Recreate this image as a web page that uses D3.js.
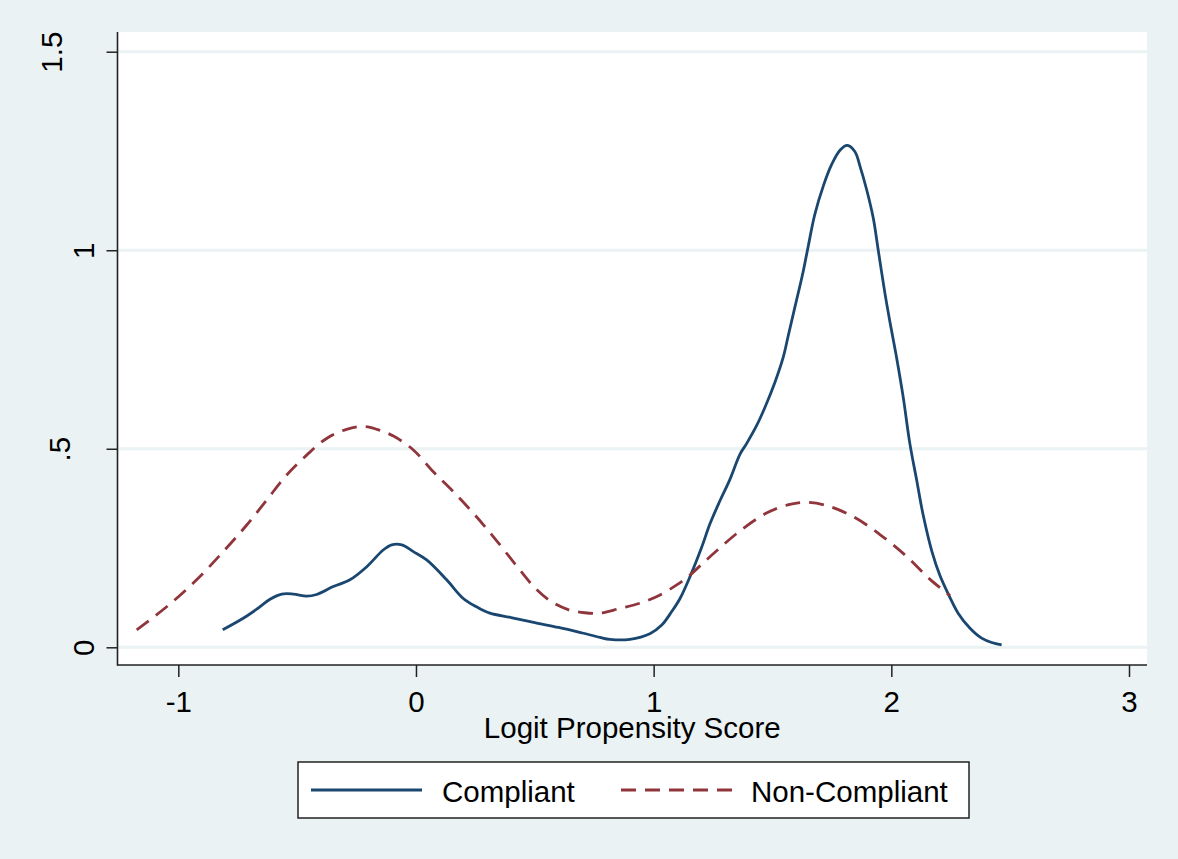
<!DOCTYPE html>
<html>
<head>
<meta charset="utf-8">
<script src="https://cdn.jsdelivr.net/npm/d3@7"></script>
<style>
  html, body { margin: 0; padding: 0; background: #eaf2f3; }
  svg { display: block; }
  text { font-family: "Liberation Sans", Arial, Helvetica, sans-serif; fill: #000; }
</style>
</head>
<body>
<svg id="chart" width="1178" height="859"></svg>
<script>
// ---- data ----
const compliantX = [-0.813,-0.727,-0.670,-0.614,-0.565,-0.516,-0.460,-0.418,-0.348,-0.278,-0.207,-0.138,-0.102,-0.060,-0.011,0.045,0.129,0.199,0.255,0.311,0.400,0.500,0.600,0.700,0.774,0.816,0.900,0.984,1.034,1.076,1.111,1.153,1.202,1.237,1.279,1.321,1.363,1.391,1.433,1.468,1.510,1.545,1.566,1.594,1.629,1.650,1.678,1.714,1.749,1.784,1.815,1.847,1.868,1.896,1.924,1.945,1.973,1.994,2.022,2.050,2.078,2.106,2.134,2.170,2.205,2.247,2.281,2.331,2.380,2.422,2.464];
const compliantY = [0.044,0.073,0.096,0.121,0.134,0.134,0.129,0.133,0.153,0.170,0.203,0.245,0.258,0.258,0.241,0.220,0.170,0.123,0.102,0.086,0.075,0.062,0.050,0.036,0.025,0.020,0.020,0.034,0.056,0.090,0.123,0.178,0.252,0.311,0.369,0.423,0.486,0.513,0.558,0.604,0.667,0.730,0.784,0.856,0.946,1.009,1.090,1.162,1.216,1.252,1.264,1.248,1.212,1.153,1.081,1.000,0.892,0.820,0.730,0.630,0.513,0.423,0.333,0.243,0.180,0.125,0.086,0.048,0.023,0.012,0.006];
const nonCompliantX = [-1.175,-1.049,-0.923,-0.811,-0.712,-0.628,-0.544,-0.460,-0.376,-0.292,-0.222,-0.165,-0.095,-0.011,0.073,0.157,0.241,0.325,0.430,0.500,0.570,0.640,0.710,0.774,0.858,0.942,1.027,1.097,1.153,1.195,1.265,1.363,1.475,1.573,1.644,1.728,1.840,1.952,2.064,2.163,2.247];
const nonCompliantY = [0.044,0.102,0.170,0.241,0.308,0.371,0.434,0.484,0.526,0.549,0.556,0.549,0.532,0.497,0.442,0.392,0.338,0.279,0.200,0.150,0.115,0.095,0.087,0.086,0.098,0.111,0.132,0.157,0.182,0.205,0.243,0.293,0.338,0.360,0.365,0.357,0.329,0.284,0.229,0.171,0.130];
const xTicks = [-1, 0, 1, 2, 3];
const xTickLabels = ["-1", "0", "1", "2", "3"];
const yTicks = [0, 0.5, 1, 1.5];
const yTickLabels = ["0", ".5", "1", "1.5"];
const seriesNames = ["Compliant", "Non-Compliant"];
const xTitle = "Logit Propensity Score";

// ---- layout ----
const W = 1178, H = 859;
const plot = { left: 117.5, right: 1147, top: 32, bottom: 665 };
const colors = ["#1a476f", "#90353b"];
const dash = "15,9";
const fontSize = 29.5;

const svg = d3.select("#chart");
svg.append("rect").attr("x", 0).attr("y", 0).attr("width", W).attr("height", H).attr("fill", "#eaf2f3");
svg.append("rect").attr("x", plot.left).attr("y", plot.top)
  .attr("width", plot.right - plot.left).attr("height", plot.bottom - plot.top).attr("fill", "#fff");

const x = d3.scaleLinear().domain([-1, 3]).range([178.3, 1129]);
const y = d3.scaleLinear().domain([0, 1.5]).range([647.3, 51.7]);

// gridlines
svg.append("g").selectAll("line").data(yTicks).join("line")
  .attr("x1", plot.left + 1).attr("x2", plot.right)
  .attr("y1", d => y(d)).attr("y2", d => y(d))
  .attr("stroke", "#eaf2f3").attr("stroke-width", 3);

// lines
const line = d3.line().x(d => x(d[0])).y(d => y(d[1])).curve(d3.curveCatmullRom.alpha(0.5));
const cData = compliantX.map((v, i) => [v, compliantY[i]]);
const nData = nonCompliantX.map((v, i) => [v, nonCompliantY[i]]);
svg.append("path").datum(cData).attr("d", line).attr("fill", "none")
  .attr("stroke", colors[0]).attr("stroke-width", 2.8).attr("stroke-linejoin", "round");
svg.append("path").datum(nData).attr("d", line).attr("fill", "none")
  .attr("stroke", colors[1]).attr("stroke-width", 2.8).attr("stroke-dasharray", dash);

// x axis
const xAxis = d3.axisBottom(x).tickValues(xTicks).tickSize(12).tickSizeOuter(0)
  .tickFormat((d, i) => xTickLabels[i]);
const gx = svg.append("g").attr("transform", `translate(0,${plot.bottom})`).call(xAxis);
gx.select(".domain").remove();
gx.selectAll(".tick line").attr("stroke", "#222").attr("stroke-width", 1.5);
gx.selectAll(".tick text").attr("y", 0).attr("dy", null)
  .attr("transform", "translate(0,47)")
  .style("font-size", fontSize + "px").style("font-family", "'Liberation Sans', Arial, sans-serif").attr("fill", "#000");
svg.append("line").attr("x1", plot.left).attr("x2", plot.right)
  .attr("y1", plot.bottom).attr("y2", plot.bottom).attr("stroke", "#222").attr("stroke-width", 1.6);

// y axis
const yAxis = d3.axisLeft(y).tickValues(yTicks).tickSize(11).tickSizeOuter(0)
  .tickFormat((d, i) => yTickLabels[i]);
const gy = svg.append("g").attr("transform", `translate(${plot.left},0)`).call(yAxis);
gy.select(".domain").remove();
gy.selectAll(".tick line").attr("stroke", "#222").attr("stroke-width", 1.5);
// Stata shifts rotated labels according to their length
const labelBaseline = s => s.length === 1 ? 94 : (s.length === 2 ? 70 : 62);
gy.selectAll(".tick text")
  .attr("x", null).attr("dy", null).attr("y", 0)
  .attr("text-anchor", "middle")
  .attr("transform", function(d, i) { return `translate(${labelBaseline(yTickLabels[i]) - plot.left},0) rotate(-90)`; })
  .style("font-size", fontSize + "px").style("font-family", "'Liberation Sans', Arial, sans-serif").attr("fill", "#000");
svg.append("line").attr("x1", plot.left).attr("x2", plot.left)
  .attr("y1", plot.top).attr("y2", plot.bottom + 0.8).attr("stroke", "#222").attr("stroke-width", 1.6);

// x title
svg.append("text").attr("x", (plot.left + plot.right) / 2).attr("y", 738)
  .attr("text-anchor", "middle").style("font-size", fontSize + "px").text(xTitle);

// legend
const lg = svg.append("g");
lg.append("rect").attr("x", 298).attr("y", 762).attr("width", 671).attr("height", 56)
  .attr("fill", "#fff").attr("stroke", "#222").attr("stroke-width", 1.5);
const keyX = [311, 621], textX = [442, 751];
seriesNames.forEach((name, i) => {
  lg.append("line").attr("x1", keyX[i]).attr("x2", keyX[i] + 111)
    .attr("y1", 790).attr("y2", 790)
    .attr("stroke", colors[i]).attr("stroke-width", 2.8)
    .attr("stroke-dasharray", i === 1 ? dash : null);
  lg.append("text").attr("x", textX[i]).attr("y", 802)
    .style("font-size", fontSize + "px").text(name);
});
</script>
</body>
</html>
